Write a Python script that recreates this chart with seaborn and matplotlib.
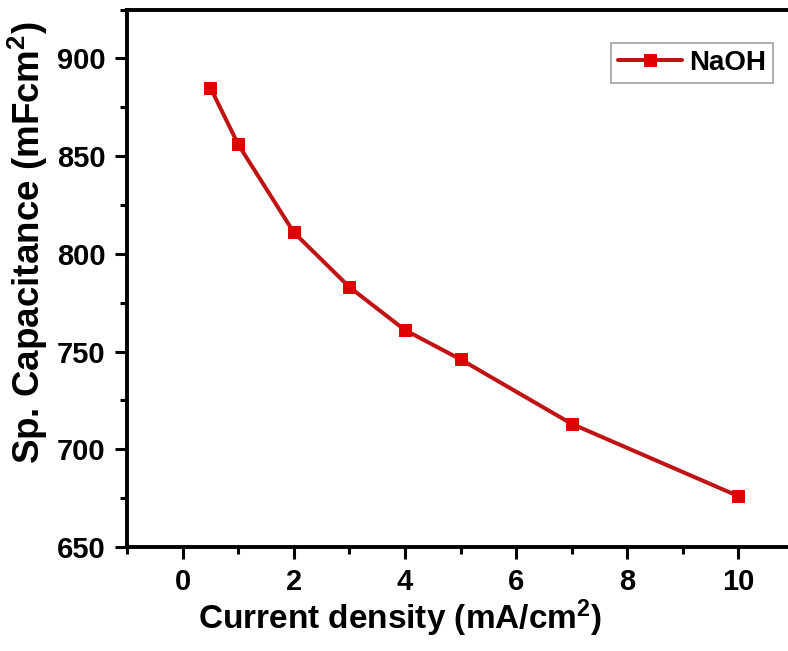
import matplotlib
matplotlib.use("Agg")
import matplotlib.pyplot as plt
from matplotlib.ticker import MultipleLocator
import seaborn as sns
import pandas as pd

# Specific capacitance vs. current density
current_density = [0.5, 1, 2, 3, 4, 5, 7, 10]
capacitance = [885, 856, 811, 783, 761, 746, 713, 676]
series_name = "NaOH"

sns.set_theme(style="white")
plt.rcParams["font.family"] = ["Liberation Sans", "DejaVu Sans"]
plt.rcParams["font.weight"] = "bold"
plt.rcParams["mathtext.fontset"] = "custom"
plt.rcParams["mathtext.rm"] = "Liberation Sans:bold"
plt.rcParams["mathtext.bf"] = "Liberation Sans:bold"
plt.rcParams["mathtext.it"] = "Liberation Sans:bold"
plt.rcParams["mathtext.default"] = "bf"
plt.rcParams["text.color"] = "black"
plt.rcParams["axes.labelcolor"] = "black"

df = pd.DataFrame({"x": current_density, "y": capacitance, "s": series_name})

fig = plt.figure(figsize=(7.88, 6.51), dpi=100)
ax = fig.add_axes([0.1612, 0.1598, 1.0076 - 0.1612, 0.9854 - 0.1598])

sns.lineplot(data=df, x="x", y="y", hue="s", palette=["#c01414"], ax=ax,
             marker="s", markersize=9, markerfacecolor="#e00000",
             markeredgecolor="#e00000", linewidth=2.9, legend=True)

ax.set_xlim(-1, 11)
ax.set_ylim(650, 925)
ax.xaxis.set_major_locator(MultipleLocator(2))
ax.xaxis.set_minor_locator(MultipleLocator(1))
ax.yaxis.set_major_locator(MultipleLocator(50))
ax.yaxis.set_minor_locator(MultipleLocator(25))

for side, sp in ax.spines.items():
    sp.set_linewidth(2.8)
    sp.set_color("black")
    sp.set_visible(side in ("left", "bottom", "top"))

ax.tick_params(axis="both", which="major", direction="out", length=8.5, width=2.2,
               labelsize=21, pad=7, color="black", labelcolor="black",
               bottom=True, left=True, top=False, right=False)
ax.tick_params(axis="both", which="minor", direction="out", length=5, width=2.2,
               color="black", bottom=True, left=True, top=False, right=False)
for lab in ax.get_xticklabels() + ax.get_yticklabels():
    lab.set_fontweight("bold")

ax.set_xlabel("Current density (mA/cm$^2$)", fontsize=24, fontweight="bold",
              color="black", labelpad=1)
ax.set_ylabel("Sp. Capacitance (mFcm$^2$)", fontsize=26.5, fontweight="bold",
              color="black", labelpad=5)
ax.xaxis.label.set_x(0.409)
ax.yaxis.label.set_y(0.567)

handles, labels = ax.get_legend_handles_labels()
ax.get_legend().remove()
leg = fig.legend(handles, labels, loc="upper left", bbox_to_anchor=(0.776, 0.934),
                 frameon=True, fancybox=False, prop={"size": 20, "weight": "bold"},
                 handlelength=2.3, handletextpad=0.25, borderpad=0.25,
                 borderaxespad=0)
leg.get_frame().set_edgecolor("#888888")
leg.get_frame().set_linewidth(1.2)
for t in leg.get_texts():
    t.set_color("black")

fig.savefig("out.png", dpi=100, facecolor="white")
